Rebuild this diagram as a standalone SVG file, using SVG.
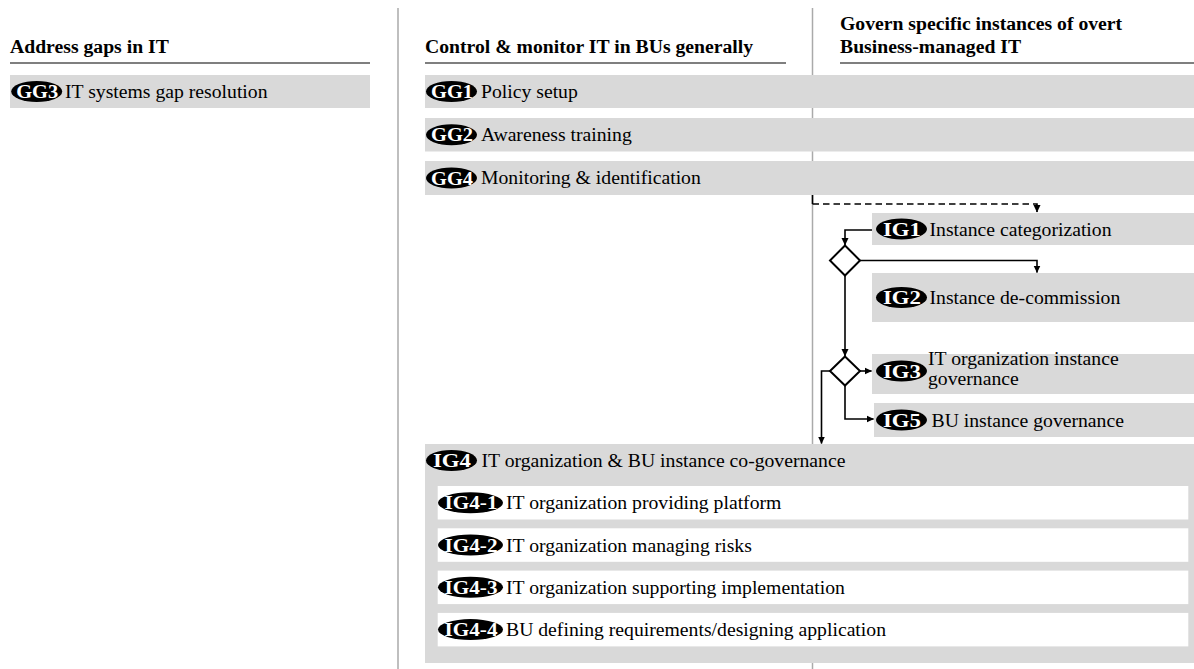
<svg xmlns="http://www.w3.org/2000/svg" width="1194" height="669" viewBox="0 0 1194 669">
<style>
  text { font-family: "Liberation Serif", "Times New Roman", serif; font-size: 19.7px; fill: #000; }
  .hdr { font-weight: bold; }
  .box { fill: #d9d9d9; }
  .sub { fill: #ffffff; }
  .badge { fill: #000; }
  .btxt { font-weight: bold; fill: #fff; text-anchor: middle; font-size: 19px; }
  .rule { stroke: #555; stroke-width: 1.5; }
  .div { stroke: #aaa; stroke-width: 1.5; }
  .conn { fill: none; stroke: #000; stroke-width: 1.6; }
  .dash { stroke-dasharray: 6.5 4; }
  .dia { fill: #fff; stroke: #000; stroke-width: 2; }
</style>
<defs>
  <marker id="arr" markerWidth="8" markerHeight="8" refX="7" refY="4" orient="auto" markerUnits="userSpaceOnUse">
    <path d="M0,0.5 L7.5,4 L0,7.5 Z" fill="#000"/>
  </marker>
</defs>
<rect width="1194" height="669" fill="#fff"/>

<g id="dividers">
  <line class="div" x1="398" y1="8" x2="398" y2="669"/>
  <line class="div" x1="812.5" y1="8" x2="812.5" y2="669"/>
</g>

<g id="headers">
  <text class="hdr" x="10" y="53">Address gaps in IT</text>
  <line class="rule" x1="10" y1="63" x2="370" y2="63"/>
  <text class="hdr" x="425" y="53">Control &amp; monitor IT in BUs generally</text>
  <line class="rule" x1="425" y1="63" x2="786" y2="63"/>
  <text class="hdr" x="840" y="29.5">Govern specific instances of overt</text>
  <text class="hdr" x="840" y="53">Business-managed IT</text>
  <line class="rule" x1="840" y1="63" x2="1194" y2="63"/>
</g>

<g id="GG3">
  <rect class="box" x="10" y="75" width="360" height="33"/>
  <ellipse class="badge" cx="36.7" cy="91.5" rx="25.5" ry="10.5"/>
  <text class="btxt" x="37.2" y="98" textLength="42" lengthAdjust="spacingAndGlyphs">GG3</text>
  <text x="65" y="97.5">IT systems gap resolution</text>
</g>

<g id="GG1">
  <rect class="box" x="425" y="75" width="769" height="33"/>
  <ellipse class="badge" cx="451.5" cy="91.5" rx="25.5" ry="10.5"/>
  <text class="btxt" x="452" y="98" textLength="42" lengthAdjust="spacingAndGlyphs">GG1</text>
  <text x="481" y="97.5">Policy setup</text>
</g>

<g id="GG2">
  <rect class="box" x="425" y="118" width="769" height="33.5"/>
  <ellipse class="badge" cx="451.5" cy="134.8" rx="25.5" ry="10.5"/>
  <text class="btxt" x="452" y="141.3" textLength="42" lengthAdjust="spacingAndGlyphs">GG2</text>
  <text x="481" y="141">Awareness training</text>
</g>

<g id="GG4">
  <rect class="box" x="425" y="161" width="769" height="34"/>
  <ellipse class="badge" cx="451.5" cy="178" rx="25.5" ry="10.5"/>
  <text class="btxt" x="452" y="184.5" textLength="42" lengthAdjust="spacingAndGlyphs">GG4</text>
  <text x="481" y="184.3">Monitoring &amp; identification</text>
</g>

<g id="IG1">
  <rect class="box" x="872" y="213" width="322" height="32"/>
  <ellipse class="badge" cx="901.5" cy="229" rx="25.5" ry="10.5"/>
  <text class="btxt" x="902" y="235.5" textLength="38" lengthAdjust="spacingAndGlyphs">IG1</text>
  <text x="929.5" y="235.5">Instance categorization</text>
</g>

<g id="IG2">
  <rect class="box" x="872" y="273" width="322" height="49"/>
  <ellipse class="badge" cx="901.5" cy="297.5" rx="25.5" ry="10.5"/>
  <text class="btxt" x="902" y="304" textLength="38" lengthAdjust="spacingAndGlyphs">IG2</text>
  <text x="929.5" y="304">Instance de-commission</text>
</g>

<g id="IG3">
  <rect class="box" x="872" y="354" width="322" height="40"/>
  <ellipse class="badge" cx="901.5" cy="371" rx="25.5" ry="10.5"/>
  <text class="btxt" x="902" y="377.5" textLength="38" lengthAdjust="spacingAndGlyphs">IG3</text>
  <text x="928" y="364.5">IT organization instance</text>
  <text x="928" y="384.5">governance</text>
</g>

<g id="IG5">
  <rect class="box" x="874" y="403" width="320" height="34"/>
  <ellipse class="badge" cx="901.5" cy="420" rx="25.5" ry="10.5"/>
  <text class="btxt" x="902" y="426.5" textLength="38" lengthAdjust="spacingAndGlyphs">IG5</text>
  <text x="931.5" y="426.5">BU instance governance</text>
</g>

<g id="IG4">
  <rect class="box" x="425" y="444" width="769" height="219"/>
  <ellipse class="badge" cx="451.5" cy="460.5" rx="25.5" ry="10.5"/>
  <text class="btxt" x="452" y="467" textLength="38" lengthAdjust="spacingAndGlyphs">IG4</text>
  <text x="481.5" y="467">IT organization &amp; BU instance co-governance</text>
</g>

<g id="IG4-1">
  <rect class="sub" x="437.7" y="486" width="750.6" height="33.5"/>
  <ellipse class="badge" cx="470.5" cy="502.8" rx="32.5" ry="10.5"/>
  <text class="btxt" x="471" y="509.3" textLength="53" lengthAdjust="spacingAndGlyphs">IG4-1</text>
  <text x="506" y="509.3">IT organization providing platform</text>
</g>

<g id="IG4-2">
  <rect class="sub" x="437.7" y="528.3" width="750.6" height="33.5"/>
  <ellipse class="badge" cx="470.5" cy="545" rx="32.5" ry="10.5"/>
  <text class="btxt" x="471" y="551.5" textLength="53" lengthAdjust="spacingAndGlyphs">IG4-2</text>
  <text x="506" y="551.5">IT organization managing risks</text>
</g>

<g id="IG4-3">
  <rect class="sub" x="437.7" y="570.6" width="750.6" height="33.5"/>
  <ellipse class="badge" cx="470.5" cy="587.3" rx="32.5" ry="10.5"/>
  <text class="btxt" x="471" y="593.8" textLength="53" lengthAdjust="spacingAndGlyphs">IG4-3</text>
  <text x="506" y="593.8">IT organization supporting implementation</text>
</g>

<g id="IG4-4">
  <rect class="sub" x="437.7" y="612.9" width="750.6" height="33.5"/>
  <ellipse class="badge" cx="470.5" cy="629.6" rx="32.5" ry="10.5"/>
  <text class="btxt" x="471" y="636.1" textLength="53" lengthAdjust="spacingAndGlyphs">IG4-4</text>
  <text x="506" y="636.1">BU defining requirements/designing application</text>
</g>

<g id="decision1">
  <polygon class="dia" points="845,245.5 860,260.5 845,275.5 830,260.5"/>
</g>
<g id="decision2">
  <polygon class="dia" points="845,356.5 860,371 845,385.5 830,371"/>
</g>

<g id="connectors">
  <path class="conn" d="M812.5,195 V204"/>
  <path class="conn dash" d="M812.5,204 H1037 V212" marker-end="url(#arr)"/>
  <path class="conn" d="M872,230 H845 V245" marker-end="url(#arr)"/>
  <path class="conn" d="M860,260.5 H1037 V272.5" marker-end="url(#arr)"/>
  <path class="conn" d="M845,275.5 V356" marker-end="url(#arr)"/>
  <path class="conn" d="M860,371 H871.5" marker-end="url(#arr)"/>
  <path class="conn" d="M845,385.5 V419 H873.5" marker-end="url(#arr)"/>
  <path class="conn" d="M830,371 H821.5 V443.5" marker-end="url(#arr)"/>
</g>
</svg>
